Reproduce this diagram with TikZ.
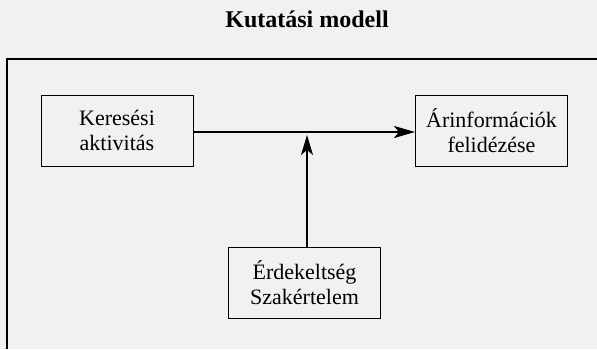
\documentclass[tikz,border=0pt]{standalone}
\usepackage{fontspec}
\setmainfont{Liberation Serif}
\usetikzlibrary{arrows.meta}
\definecolor{paper}{RGB}{241,241,244}
\begin{document}
\begin{tikzpicture}[x=1pt,y=-1pt,
        box/.style={draw,line width=1pt,fill=paper,align=center,
            minimum width=152pt,minimum height=71pt,inner sep=0pt,
            font=\fontsize{22}{25}\selectfont},
        title/.style={font=\fontsize{24}{28}\selectfont\bfseries},
        frame/.style={line width=1.8pt},
        main/.style={line width=2.6pt,-{Stealth[length=21pt,width=12pt,inset=5pt]}},
        side/.style={line width=1.1pt,-{Stealth[length=20pt,width=12pt,inset=5pt]}}]
        \fill[paper] (0,0) rectangle (597,349);
        \useasboundingbox (0,0) rectangle (597,349);
        % frame, open to the right and to the bottom
        \draw[frame] (7,349) -- (7,59) -- (597,59);
        \node[title,anchor=base] (cim) at (307,27) {Kutatási modell};
        \node[box] (kereses) at (117,130.5) {Keresési\\aktivitás};
        \node[box] (arinfo) at (491.5,130.5) {Árinformációk\\felidézése};
        \node[box] (erdek) at (304.5,282.5) {Érdekeltség\\Szakértelem};
        \coordinate (hegy) at (307,135);
        \draw[main] (kereses.east |- 0,132) -- (arinfo.west |- 0,132);
        \draw[side] (erdek.north -| hegy) -- (hegy);
    \end{tikzpicture}
\end{document}
